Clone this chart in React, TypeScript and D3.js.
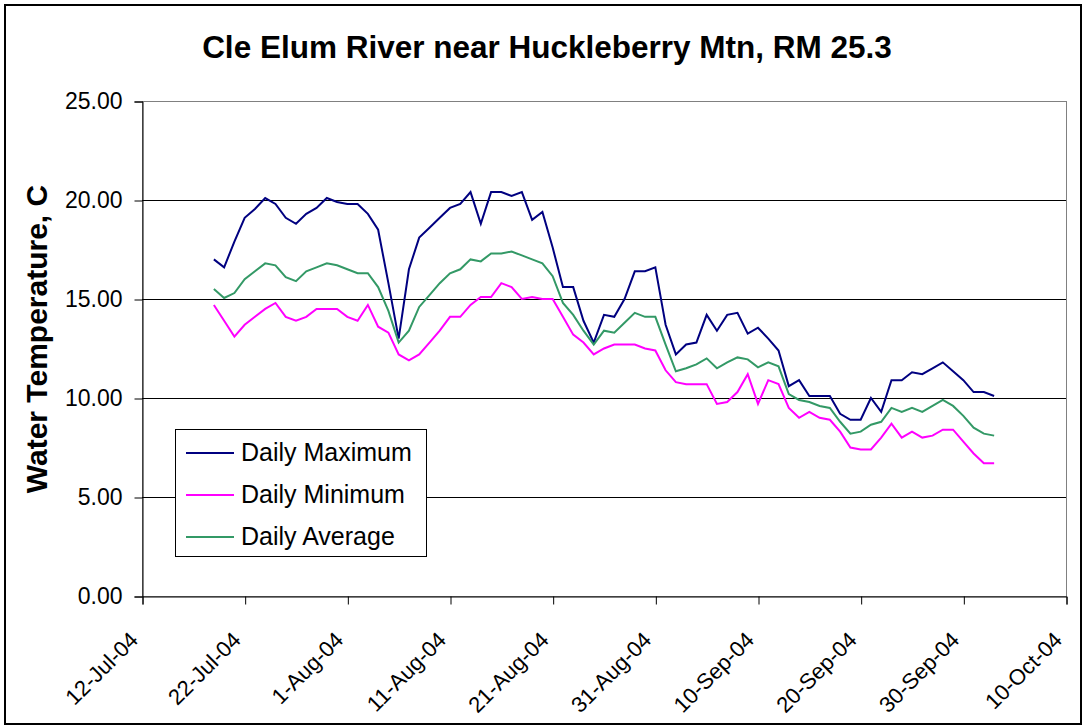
import React, { useEffect, useRef } from "react";
import * as d3 from "d3";

const chartTitle = "Cle Elum River near Huckleberry Mtn, RM 25.3";
const yAxisTitle = "Water Temperature, C";

// first day of record, values are daily from here on
const firstDay = "19-Jul-04";

const xTickLabels = [
  "12-Jul-04",
  "22-Jul-04",
  "1-Aug-04",
  "11-Aug-04",
  "21-Aug-04",
  "31-Aug-04",
  "10-Sep-04",
  "20-Sep-04",
  "30-Sep-04",
  "10-Oct-04",
];
const yTicks = [0, 5, 10, 15, 20, 25];

const dailyMax = [
  17.0, 16.6, 17.9, 19.1, 19.55, 20.1, 19.8, 19.1, 18.8, 19.3, 19.6, 20.1, 19.9,
  19.8, 19.8, 19.3, 18.5, 15.8, 13.0, 16.5, 18.1, 18.6, 19.1, 19.6, 19.8, 20.4,
  18.8, 20.4, 20.4, 20.2, 20.4, 19.0, 19.4, 17.6, 15.6, 15.6, 13.9, 12.8, 14.2,
  14.1, 15.0, 16.4, 16.4, 16.6, 13.7, 12.2, 12.7, 12.8, 14.2, 13.4, 14.2, 14.3,
  13.25, 13.55, 13.0, 12.4, 10.6, 10.9, 10.1, 10.1, 10.1, 9.2, 8.9, 8.9, 10.0,
  9.3, 10.9, 10.9, 11.3, 11.2, 11.5, 11.8, 11.35, 10.9, 10.3, 10.3, 10.1,
];

const dailyMin = [
  14.7, 13.9, 13.1, 13.7, 14.1, 14.5, 14.8, 14.1, 13.9, 14.1, 14.5, 14.5, 14.5,
  14.1, 13.9, 14.7, 13.6, 13.3, 12.2, 11.9, 12.2, 12.8, 13.4, 14.1, 14.1, 14.7,
  15.1, 15.1, 15.8, 15.6, 15.0, 15.1, 15.0, 15.0, 14.1, 13.2, 12.8, 12.2, 12.5,
  12.7, 12.7, 12.7, 12.5, 12.4, 11.4, 10.8, 10.7, 10.7, 10.7, 9.7, 9.8, 10.3,
  11.2, 9.7, 10.9, 10.7, 9.5, 9.0, 9.3, 9.0, 8.9, 8.3, 7.5, 7.4, 7.4, 8.0, 8.7,
  8.0, 8.3, 8.0, 8.1, 8.4, 8.4, 7.8, 7.2, 6.7, 6.7,
];

const dailyAvg = [
  15.5, 15.05, 15.3, 16.0, 16.4, 16.8, 16.7, 16.1, 15.9, 16.4, 16.6, 16.8, 16.7,
  16.5, 16.3, 16.3, 15.6, 14.4, 12.8, 13.4, 14.6, 15.2, 15.8, 16.3, 16.5, 17.0,
  16.9, 17.3, 17.3, 17.4, 17.2, 17.0, 16.8, 16.15, 14.8, 14.2, 13.4, 12.7, 13.4,
  13.3, 13.8, 14.3, 14.1, 14.1, 12.7, 11.35, 11.5, 11.7, 12.0, 11.5, 11.8, 12.05,
  11.95, 11.55, 11.8, 11.6, 10.2, 9.9, 9.8, 9.6, 9.5, 8.8, 8.2, 8.3, 8.65, 8.8,
  9.5, 9.3, 9.5, 9.3, 9.6, 9.9, 9.6, 9.1, 8.5, 8.2, 8.1,
];

const seriesNames = ["Daily Maximum", "Daily Minimum", "Daily Average"];
const seriesColors = ["#000080", "#ff00ff", "#339966"];

interface Point {
  date: Date;
  value: number;
}

export default function App() {
  const svgRef = useRef<SVGSVGElement | null>(null);

  useEffect(() => {
    if (!svgRef.current) return;
    d3.select(svgRef.current).selectAll("*").remove();

    const W = 1086;
    const H = 727;
    const plot = { left: 142, top: 101, right: 1066, bottom: 596 };
    const font = "'Liberation Sans', Arial, sans-serif";

    const parse = d3.timeParse("%d-%b-%y");
    const tickDates = xTickLabels.map((s) => parse(s) as Date);
    const start = parse(firstDay) as Date;

    const x = d3
      .scaleTime()
      .domain([tickDates[0], tickDates[tickDates.length - 1]])
      .range([plot.left, plot.right]);
    const y = d3
      .scaleLinear()
      .domain([0, 25])
      .range([plot.bottom, plot.top]);

    const svg = d3
      .select(svgRef.current)
      .attr("width", W)
      .attr("height", H)
      .style("font-family", font);

    svg.append("rect").attr("width", W).attr("height", H).attr("fill", "#fff");

    // outer frame
    svg
      .append("rect")
      .attr("x", 5)
      .attr("y", 5)
      .attr("width", 1076)
      .attr("height", 719)
      .attr("fill", "none")
      .attr("stroke", "#000")
      .attr("stroke-width", 2);

    // title
    svg
      .append("text")
      .attr("x", 547)
      .attr("y", 58)
      .attr("text-anchor", "middle")
      .style("font-size", "31.5px")
      .style("font-weight", "bold")
      .text(chartTitle);

    // plot area border
    svg
      .append("rect")
      .attr("x", plot.left + 0.5)
      .attr("y", plot.top + 0.5)
      .attr("width", plot.right - plot.left)
      .attr("height", plot.bottom - plot.top)
      .attr("fill", "#fff")
      .attr("stroke", "#808080")
      .attr("stroke-width", 1);

    // gridlines
    svg
      .append("g")
      .selectAll("line")
      .data(yTicks.filter((t) => t > 0 && t < 25))
      .join("line")
      .attr("x1", plot.left)
      .attr("x2", plot.right)
      .attr("y1", (d) => Math.round(y(d)) + 0.5)
      .attr("y2", (d) => Math.round(y(d)) + 0.5)
      .attr("stroke", "#000")
      .attr("stroke-width", 1);

    // Y axis
    const yAxis = svg
      .append("g")
      .attr("transform", `translate(${plot.left + 0.5},0.5)`)
      .call(
        d3
          .axisLeft(y)
          .tickValues(yTicks)
          .tickSize(8)
          .tickPadding(12)
          .tickFormat((d) => d3.format(".2f")(d as number))
      );
    yAxis.select(".domain").attr("stroke", "#000");
    yAxis
      .selectAll("text")
      .style("font-size", "23px")
      .style("font-family", font)
      .attr("fill", "#000");

    // X axis
    const xAxis = svg
      .append("g")
      .attr("transform", `translate(0.5,${plot.bottom + 0.5})`)
      .call(d3.axisBottom(x).tickValues(tickDates).tickSize(8).tickFormat(() => ""));
    xAxis.select(".domain").attr("stroke", "#000");

    svg
      .append("g")
      .selectAll("text")
      .data(tickDates)
      .join("text")
      .attr("transform", (d) => `translate(${x(d) - 8},636) rotate(-45)`)
      .attr("text-anchor", "end")
      .attr("dy", "0.35em")
      .style("font-size", "22px")
      .text((_, i) => xTickLabels[i]);

    // Y axis title
    svg
      .append("text")
      .attr("transform", `translate(47,339) rotate(-90)`)
      .attr("text-anchor", "middle")
      .style("font-size", "30px")
      .style("font-weight", "bold")
      .text(yAxisTitle);

    // series lines
    const line = d3
      .line<Point>()
      .x((d) => x(d.date))
      .y((d) => y(d.value));

    const seriesData = [dailyMax, dailyMin, dailyAvg];
    seriesData.forEach((vals, s) => {
      const pts: Point[] = vals.map((v, i) => ({
        date: d3.timeDay.offset(start, i),
        value: v,
      }));
      svg
        .append("path")
        .datum(pts)
        .attr("fill", "none")
        .attr("stroke", seriesColors[s])
        .attr("stroke-width", 2)
        .attr("stroke-linejoin", "miter")
        .attr("d", line);
    });

    // legend
    const legend = svg.append("g");
    legend
      .append("rect")
      .attr("x", 175.5)
      .attr("y", 429.5)
      .attr("width", 251)
      .attr("height", 127)
      .attr("fill", "#fff")
      .attr("stroke", "#000")
      .attr("stroke-width", 1);
    seriesNames.forEach((name, i) => {
      const ly = 453 + i * 42;
      legend
        .append("line")
        .attr("x1", 186)
        .attr("x2", 234)
        .attr("y1", ly)
        .attr("y2", ly)
        .attr("stroke", seriesColors[i])
        .attr("stroke-width", 2);
      legend
        .append("text")
        .attr("x", 241)
        .attr("y", ly + 8)
        .style("font-size", "25px")
        .text(name);
    });
  }, []);

  return (
    <div style={{ position: "absolute", left: 0, top: 0 }}>
      <svg ref={svgRef}></svg>
    </div>
  );
}
